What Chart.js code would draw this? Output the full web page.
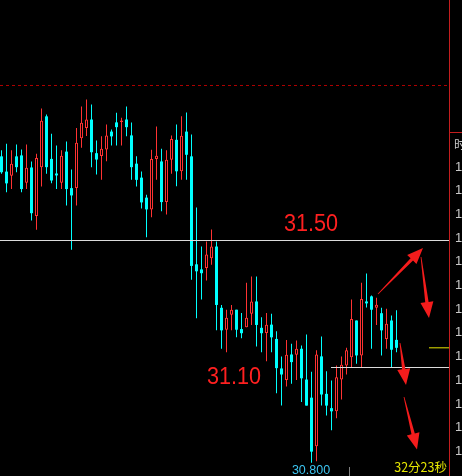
<!DOCTYPE html>
<html>
<head>
<meta charset="utf-8">
<script src="https://cdn.jsdelivr.net/npm/chart.js@4.4.0/dist/chart.umd.min.js"></script>
<style>
html,body{margin:0;padding:0;background:#000;overflow:hidden}
canvas{display:block}
</style>
</head>
<body>
<canvas id="kline" width="462" height="476" style="width:462px;height:476px"></canvas>
<script>
// One-minute bars, oldest first
const opens = [31.765,31.717,31.704,31.765,31.768,31.682,31.730,31.577,31.731,31.891,
  31.757,31.711,31.682,31.780,31.665,31.665,31.822,31.854,31.881,31.775,
  31.766,31.787,31.843,31.872,31.873,31.881,31.831,31.742,31.698,31.635,
  31.598,31.757,31.749,31.621,31.754,31.817,31.718,31.843,31.765,31.425,
  31.409,31.413,31.444,31.481,31.288,31.219,31.266,31.282,31.221,31.227,
  31.269,31.308,31.225,31.209,31.235,31.190,31.097,31.061,31.141,31.140,
  31.159,31.062,31.005,30.852,31.135,31.017,30.972,30.962,31.062,31.106,
  31.132,31.248,31.138,31.308,31.324,31.288,31.271,31.190,31.248,31.187];
const highs = [31.784,31.805,31.784,31.802,31.787,31.802,31.749,31.773,31.916,31.897,
  31.836,31.799,31.784,31.812,31.724,31.854,31.922,31.944,31.928,31.815,
  31.828,31.865,31.850,31.902,31.887,31.922,31.872,31.765,31.717,31.644,
  31.786,31.859,31.789,31.784,31.831,31.865,31.891,31.903,31.834,31.604,
  31.481,31.497,31.535,31.497,31.297,31.282,31.297,31.282,31.272,31.367,
  31.387,31.387,31.258,31.272,31.269,31.214,31.135,31.187,31.175,31.185,
  31.169,31.204,31.087,31.154,31.198,31.088,31.059,31.106,31.135,31.162,
  31.314,31.248,31.367,31.396,31.327,31.320,31.288,31.285,31.264,31.280];
const lows = [31.710,31.652,31.662,31.715,31.652,31.662,31.563,31.534,31.670,31.710,
  31.680,31.662,31.662,31.610,31.471,31.610,31.792,31.829,31.731,31.708,
  31.691,31.750,31.799,31.799,31.799,31.828,31.691,31.670,31.601,31.510,
  31.573,31.691,31.592,31.582,31.710,31.671,31.691,31.691,31.376,31.255,
  31.314,31.374,31.424,31.217,31.159,31.148,31.217,31.195,31.192,31.227,
  31.234,31.166,31.148,31.120,31.148,31.019,30.980,31.040,31.049,31.061,
  30.991,30.980,30.800,30.805,30.980,30.949,30.902,30.940,30.999,31.078,
  31.099,31.112,31.099,31.289,31.159,31.234,31.138,31.159,31.099,31.148];
const closes = [31.715,31.680,31.742,31.731,31.662,31.729,31.586,31.760,31.877,31.731,
  31.689,31.705,31.767,31.662,31.642,31.808,31.871,31.881,31.778,31.755,
  31.789,31.831,31.828,31.857,31.878,31.857,31.731,31.691,31.620,31.598,
  31.757,31.767,31.621,31.754,31.820,31.718,31.830,31.770,31.420,31.403,
  31.397,31.456,31.481,31.297,31.217,31.257,31.282,31.219,31.208,31.257,
  31.308,31.234,31.208,31.235,31.195,31.098,31.078,31.140,31.117,31.159,
  31.066,30.980,30.835,31.141,31.015,30.980,30.962,31.069,31.109,31.154,
  31.253,31.138,31.316,31.302,31.282,31.298,31.217,31.238,31.156,31.162];

// Marked levels and reference values
const resistanceLevel = 31.50;
const supportLevel = 31.10;
const referenceLevel = 31.9882;
const sessionLow = 30.800;
const countdownText = '32分23秒';
const tradeListHeader = '时间';
const tradeListTimes = ['14:19','14:20','14:21','14:22','14:23','14:24','14:25',
  '14:26','14:27','14:28','14:29','14:30','14:31'];

const UP = '#ff3232', DOWN = '#00ffff';
const n = closes.length;
const isUp = closes.map((c, i) => c > opens[i]);
const lastClose = closes[n - 1];

// Price mapping: 317.5 px per unit, 476 px tall plot
const PX_PER_UNIT = 317.5;
const yMax = resistanceLevel + 240.5 / PX_PER_UNIT;
const yMin = resistanceLevel - 235.5 / PX_PER_UNIT;
const xMin = -0.3, xMax = 89.5;

// Hand-drawn direction arrows, in (bar index, price)
const arrows = [
  {from: [75.3, 31.3315], to: [84.3, 31.4764]},
  {from: [83.9, 31.448], to: [85.5, 31.256]},
  {from: [79.7, 31.177], to: [80.9, 31.045]},
  {from: [80.5, 31.007], to: [83.1, 30.842]}
];

const bodyData = opens.map((o, i) => ({x: i, y: [Math.min(o, closes[i]), Math.max(o, closes[i])]}));
const wickData = highs.map((h, i) => ({x: i, y: [lows[i], h]}));

const overlay = {
  id: 'overlay',
  afterDraw(chart) {
    const {ctx, chartArea, scales} = chart;
    const xs = scales.x, ys = scales.y;
    ctx.save();

    // right-hand separator and trade list panel
    ctx.strokeStyle = '#c41e1e';
    ctx.lineWidth = 1;
    ctx.beginPath();
    ctx.moveTo(chartArea.right + 0.5, 0);
    ctx.lineTo(chartArea.right + 0.5, chart.height);
    ctx.moveTo(chartArea.right, 132.5);
    ctx.lineTo(chart.width, 132.5);
    ctx.stroke();

    ctx.fillStyle = '#c8c8c8';
    ctx.textBaseline = 'middle';
    ctx.textAlign = 'left';
    ctx.font = '12px "Noto Sans CJK SC"';
    ctx.fillText(tradeListHeader, chartArea.right + 5, 144);
    ctx.font = '13px "Liberation Sans"';
    tradeListTimes.forEach((t, k) => {
      ctx.fillText(t, chartArea.right + 6, 167 + k * 23.7);
    });

    // level labels
    ctx.fillStyle = '#ff2020';
    ctx.font = '24px "Liberation Sans"';
    ctx.textBaseline = 'alphabetic';
    const drawScaled = (txt, x, y) => {
      ctx.save();
      ctx.translate(x, y);
      ctx.scale(0.9, 1);
      ctx.fillText(txt, 0, 0);
      ctx.restore();
    };
    drawScaled(resistanceLevel.toFixed(2), xs.getPixelForValue(56.5), ys.getPixelForValue(resistanceLevel) - 9.5);
    drawScaled(supportLevel.toFixed(2), xs.getPixelForValue(41.1), ys.getPixelForValue(supportLevel) + 16.5);

    // session low marker
    const lowIdx = lows.indexOf(Math.min(...lows));
    ctx.fillStyle = '#3cc4f0';
    ctx.font = '12.5px "Liberation Sans"';
    ctx.textAlign = 'center';
    ctx.textBaseline = 'top';
    ctx.fillText(sessionLow.toFixed(3), xs.getPixelForValue(lowIdx) - 0.5, ys.getPixelForValue(sessionLow) + 1.5);

    // bottom status line
    ctx.strokeStyle = '#808080';
    ctx.beginPath();
    ctx.moveTo(349.5, 467);
    ctx.lineTo(349.5, 476);
    ctx.stroke();
    ctx.fillStyle = '#e6e600';
    ctx.font = '12.5px "Noto Sans CJK SC"';
    ctx.textAlign = 'right';
    ctx.fillText(countdownText, 447, 461);

    // arrows
    ctx.fillStyle = '#f41c1c';
    arrows.forEach(a => {
      const x0 = xs.getPixelForValue(a.from[0]), y0 = ys.getPixelForValue(a.from[1]);
      const x1 = xs.getPixelForValue(a.to[0]), y1 = ys.getPixelForValue(a.to[1]);
      const dx = x1 - x0, dy = y1 - y0, len = Math.hypot(dx, dy);
      const ux = dx / len, uy = dy / len, px = -uy, py = ux;
      const headLen = 16, headHalf = 6.5;
      const bx = x1 - ux * headLen, by = y1 - uy * headLen;
      ctx.beginPath();
      ctx.moveTo(x0 + px * 0.4, y0 + py * 0.4);
      ctx.lineTo(bx + px * 1.7, by + py * 1.7);
      ctx.lineTo(bx + px * headHalf, by + py * headHalf);
      ctx.lineTo(x1, y1);
      ctx.lineTo(bx - px * headHalf, by - py * headHalf);
      ctx.lineTo(bx - px * 1.7, by - py * 1.7);
      ctx.lineTo(x0 - px * 0.4, y0 - py * 0.4);
      ctx.closePath();
      ctx.fill();
    });
    ctx.restore();
  }
};

const lineDs = (pts, color, dash) => ({
  type: 'line',
  data: pts,
  borderColor: color,
  borderWidth: 1,
  borderDash: dash || [],
  pointRadius: 0,
  tension: 0,
  fill: false,
  order: -1
});

new Chart(document.getElementById('kline'), {
  type: 'bar',
  data: {
    datasets: [
      {
        label: 'body',
        data: bodyData,
        backgroundColor: isUp.map(u => u ? '#000000' : DOWN),
        borderColor: isUp.map(u => u ? UP : DOWN),
        borderWidth: isUp.map(u => u ? 1 : 0),
        borderSkipped: false,
        inflateAmount: 0,
        barThickness: 3,
        grouped: false,
        order: 0
      },
      {
        label: 'wick',
        data: wickData,
        backgroundColor: isUp.map(u => u ? UP : DOWN),
        borderWidth: 0,
        inflateAmount: 0,
        barThickness: 1,
        grouped: false,
        order: 1
      },
      lineDs([{x: xMin, y: resistanceLevel}, {x: xMax, y: resistanceLevel}], '#dcdcdc'),
      lineDs([{x: 65.9, y: supportLevel}, {x: xMax, y: supportLevel}], '#dcdcdc'),
      lineDs([{x: xMin, y: referenceLevel}, {x: 89.1, y: referenceLevel}], '#b00000', [3, 3]),
      lineDs([{x: 85.5, y: lastClose}, {x: xMax, y: lastClose}], '#e6e600')
    ]
  },
  options: {
    responsive: false,
    animation: false,
    events: [],
    layout: {padding: {left: 0, right: 13, top: 0, bottom: 0}},
    plugins: {legend: {display: false}, tooltip: {enabled: false}},
    scales: {
      x: {type: 'linear', min: xMin, max: xMax, offset: false, display: false},
      y: {type: 'linear', min: yMin, max: yMax, display: false}
    }
  },
  plugins: [overlay]
});
</script>
</body>
</html>
